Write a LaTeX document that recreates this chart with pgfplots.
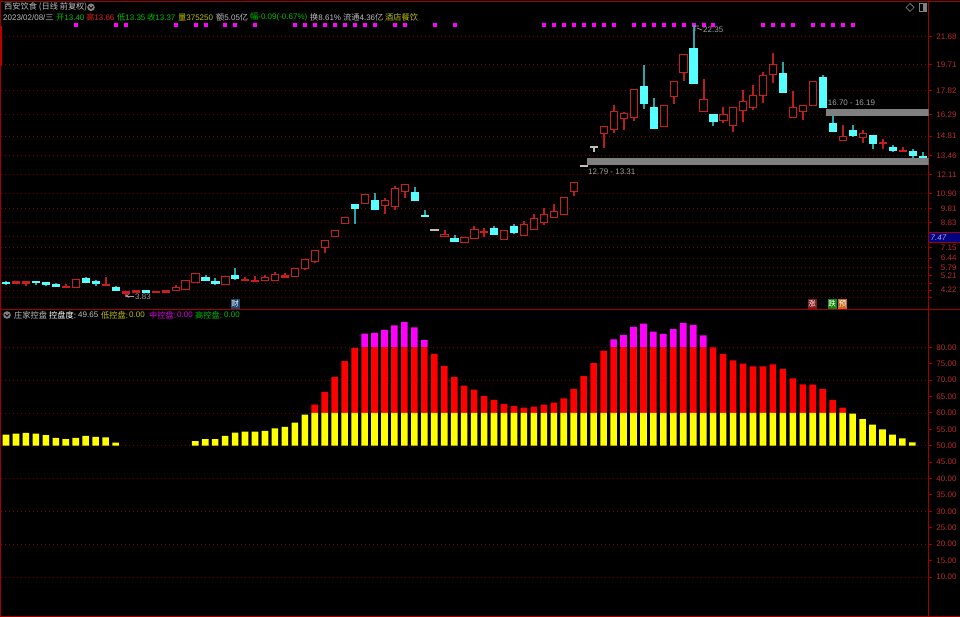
\documentclass[border=0pt]{standalone}
\usepackage{pgfplots}
\pgfplotsset{compat=1.18}
\usepackage{pgfplotstable}
\usepackage{fontspec}
\setmainfont{Liberation Sans}
\newfontfamily\cjk{Noto Sans CJK SC}
\definecolor{frame}{HTML}{A00000}
\definecolor{griddot}{HTML}{7A0000}
\definecolor{ticktxt}{HTML}{B82C2C}
\definecolor{candred}{HTML}{C81E1E}
\definecolor{wickred}{HTML}{B81C1C}
\definecolor{candcy}{HTML}{55FFFF}
\definecolor{wickcy}{HTML}{2AA5A5}
\definecolor{txtgray}{HTML}{BEBEBE}
\definecolor{txtgreen}{HTML}{00C000}
\definecolor{txtred}{HTML}{E02020}
\definecolor{txtolive}{HTML}{C0C000}
\definecolor{txtmag}{HTML}{E000E0}
\definecolor{band}{HTML}{808080}
\definecolor{pureyellow}{HTML}{FFFF00}
\definecolor{purered}{HTML}{FF0000}
\definecolor{puremag}{HTML}{FF00FF}
\definecolor{navybox}{HTML}{000080}
\definecolor{boxtxt}{HTML}{A8A8F0}
\definecolor{iconcol}{HTML}{808080}
\definecolor{annot}{HTML}{A0A0A0}
\definecolor{bcai}{HTML}{1C4670}
\definecolor{bzhang}{HTML}{801818}
\definecolor{bdie}{HTML}{108810}
\definecolor{byu}{HTML}{C86820}
\newcommand\C[1]{{\cjk\fontsize{8.2}{9}\selectfont #1}}
\newcommand\T[4]{\node[anchor=west,inner sep=0pt,text=#3,font=\fontsize{8}{9}\selectfont] at ({#1*1pt},{(617-#2)*1pt}) {#4};}
\newcommand\badge[4]{\node[inner sep=0pt,minimum width=9pt,minimum height=10pt,fill=#3,text=white,font=\cjk\fontsize{7.5}{8}\selectfont] at ({#1*1pt},{(617-#2)*1pt}) {#4};}

% candles: i = bar number, all rows in chart rows (h wick top, l wick bottom, t body top, b body bottom)
\pgfplotstableread{
i h l t b
1 281.3 283.3 281.3 283.3
2 281.3 285.3 281.3 283
6 284 287.3 286 287.3
7 279.7 287.3 279.7 287.3
10 277.7 285.3 284 285.3
12 291.7 296 291.7 293.7
13 290.3 292 290.3 292
15 291 292 291 292
16 290.3 292 290.3 292
17 285.3 290.3 287 290.3
18 280.3 289.3 280.3 289.3
19 273.3 282.7 273.3 282.7
22 276.3 284 276.3 284
24 277.3 280.7 279 280.7
25 276 281.7 280.3 281.7
26 275.7 280.3 277.7 280.3
27 272.3 280.7 274.3 280.7
28 273.3 277.7 275.7 277.7
29 268.3 276.7 268.3 276.7
30 259.7 269.3 259.7 268
31 250.3 262.3 250.3 261.3
32 240.3 252 240.3 247
33 230.3 236.7 230.3 236.7
34 217.3 223.7 217.3 223.7
36 194.7 203.7 194.7 203.7
38 198.3 213.7 200.3 205.7
39 186 209.7 188.3 206.7
40 184.3 197.7 184.3 191.7
44 230 236.7 234.3 236.7
46 237.3 242.3 237.3 242.3
47 226 238.7 229.3 238.7
48 228.3 236.7 231.3 232.3
50 230 239.3 230 239.3
52 221 235.7 224.3 235.7
53 214.3 229.7 218.3 229.7
54 208 224 214 222.7
55 204 217.7 211.3 217.7
56 197.3 214.7 197.3 214.7
57 182.3 195.7 182.3 191.7
60 126.7 147.3 126.7 133.3
61 105 132 111.7 129.3
62 112.7 129 113.7 118.3
63 89.7 120 89.7 117.3
66 105.7 126 105.7 126
67 81.3 103 81.3 96.3
68 54.3 80 54.3 72.3
70 79 111.3 99.7 111.3
72 107.7 122.7 114.3 120
73 107.7 131.7 107.7 125.7
74 90 121 101.7 110.7
75 85.7 109.7 95.7 107.3
76 72.3 102 75.3 95.3
77 53.7 82.7 64 74.3
79 91 117.3 107.7 117.3
80 105.7 119.7 105.7 111.7
81 81.3 105.7 81.3 105.7
84 125.3 140.3 136.3 140.3
86 130.3 142 133.3 137.7
88 139 148.7 142.3 143.7
90 147.3 151.5 150.3 151.5
}\redcandles
\pgfplotstableread{
i h l t b
0 281 284 282 283.3
3 281.3 284.7 281.3 282.3
4 282.3 285 282.3 284
5 283.3 286.7 284.7 286.7
8 277.7 282.3 278.3 282
9 280.3 285 281 283.3
11 286.7 290.7 287.3 290.7
14 290.3 292 290.3 292
20 275.7 280.7 277 280.7
21 278.3 284.3 281 283
23 268.3 279.7 275.7 278.3
35 204 223.3 204 208.3
37 193.3 209.7 200.7 209.7
41 187.3 200.3 192.3 200.3
42 210 216 215 216
45 235.7 241 238.3 241
49 226 234.7 228.7 234.7
51 224 233 226 232.3
64 65.7 108.3 86.3 103.3
65 98.3 128 107 128
69 25 83.3 48.3 83.3
71 114.3 125 114.3 121
78 62.3 92 73 92
82 75.7 107.3 77.7 107.3
83 115 131.3 123.7 131.3
85 125.7 136.7 130.3 135.3
87 135.7 148.7 135.7 143.3
89 145.3 151.7 147 150.3
91 149 157.7 151 155
92 152 157.2 156.2 157.2
}\cyancandles
\pgfplotstableread{
i h l t b
43 229.3 230.3 229.3 230.3
58 165 166 165 166
59 146.7 151.7 146.7 147.7
}\whitecandles
\pgfplotstableread{
i r
7 24.7
11 24.7
12 24.7
17 24.7
19 24.7
20 24.7
22 24.7
23 24.7
25 24.7
29 24.7
30 24.7
31 24.7
32 24.7
33 24.7
34 24.7
35 24.7
36 24.7
37 24.7
39 24.7
40 24.7
43 24.7
45 24.7
54 24.7
55 24.7
56 24.7
57 24.7
58 24.7
59 24.7
60 24.7
61 24.7
63 24.7
64 24.7
65 24.7
66 24.7
67 24.7
68 24.7
69 24.7
70 24.7
71 24.7
76 24.7
77 24.7
78 24.7
79 24.7
81 24.7
82 24.7
83 24.7
84 24.7
85 24.7
}\dotrows
% control bars: base 50, then yellow to 60, red to 80, magenta above
\pgfplotstableread{
i base yel red mag
0 50 3.4 0 0
1 50 3.7 0 0
2 50 3.9 0 0
3 50 3.7 0 0
4 50 3.2 0 0
5 50 2.4 0 0
6 50 2.0 0 0
7 50 2.4 0 0
8 50 3.0 0 0
9 50 2.7 0 0
10 50 2.5 0 0
11 50 0.9 0 0
19 50 1.4 0 0
20 50 2.0 0 0
21 50 2.0 0 0
22 50 3.0 0 0
23 50 4.0 0 0
24 50 4.3 0 0
25 50 4.3 0 0
26 50 4.5 0 0
27 50 5.3 0 0
28 50 5.7 0 0
29 50 7.0 0 0
30 50 9.5 0 0
31 50 10 2.5 0
32 50 10 6.4 0
33 50 10 11.0 0
34 50 10 15.8 0
35 50 10 19.8 0
36 50 10 20 4.2
37 50 10 20 4.4
38 50 10 20 5.2
39 50 10 20 6.7
40 50 10 20 7.7
41 50 10 20 6.1
42 50 10 20 2.2
43 50 10 18.0 0
44 50 10 14.3 0
45 50 10 11.0 0
46 50 10 8.3 0
47 50 10 7.1 0
48 50 10 5.2 0
49 50 10 4.0 0
50 50 10 2.7 0
51 50 10 2.1 0
52 50 10 1.6 0
53 50 10 1.9 0
54 50 10 2.5 0
55 50 10 3.1 0
56 50 10 4.4 0
57 50 10 7.3 0
58 50 10 11.2 0
59 50 10 15.2 0
60 50 10 19.0 0
61 50 10 20 2.4
62 50 10 20 3.7
63 50 10 20 6.2
64 50 10 20 7.2
65 50 10 20 4.8
66 50 10 20 4.1
67 50 10 20 5.5
68 50 10 20 7.4
69 50 10 20 6.8
70 50 10 20 3.6
71 50 10 20 0
72 50 10 17.9 0
73 50 10 16.0 0
74 50 10 15.0 0
75 50 10 14.2 0
76 50 10 14.2 0
77 50 10 14.8 0
78 50 10 13.4 0
79 50 10 10.5 0
80 50 10 8.7 0
81 50 10 8.6 0
82 50 10 7.3 0
83 50 10 4.0 0
84 50 10 1.6 0
85 50 9.8 0 0
86 50 8.1 0 0
87 50 6.4 0 0
88 50 5.0 0 0
89 50 3.4 0 0
90 50 2.2 0 0
91 50 1.0 0 0
}\control

\pgfplotsset{
  wickplot/.style={scatter,only marks,mark=none,forget plot,
    visualization depends on={\thisrow{l}-\thisrow{h} \as \wh},
    scatter/@pre marker code/.code={\fill[#1] (-0.5pt,0pt) rectangle (0.5pt,{-\wh pt});},
    scatter/@post marker code/.code={}},
  bodyplot/.style={scatter,only marks,mark=none,forget plot,
    visualization depends on={\thisrow{b}-\thisrow{t} \as \bh},
    scatter/@pre marker code/.code={\fill[#1] (-3.6pt,0pt) rectangle (3.6pt,{-\bh pt});},
    scatter/@post marker code/.code={}},
  hollowplot/.style={scatter,only marks,mark=none,forget plot,
    visualization depends on={\thisrow{b}-\thisrow{t} \as \bh},
    scatter/@pre marker code/.code={\fill[#1] (-3.6pt,0pt) rectangle (3.6pt,{-\bh pt});
      \pgfmathparse{\bh>2.2?1:0}\ifnum\pgfmathresult=1
        \fill[black] (-2.6pt,-1pt) rectangle (2.6pt,{(1-\bh)*1pt});\fi},
    scatter/@post marker code/.code={}},
  dotplot/.style={scatter,only marks,mark=none,forget plot,
    scatter/@pre marker code/.code={\fill[puremag] (-1.5pt,-1.5pt) rectangle (1.5pt,1.5pt);},
    scatter/@post marker code/.code={}},
}

\begin{document}
\begin{tikzpicture}[x=1pt,y=1pt]
\useasboundingbox (0,0) rectangle (960pt,617pt);
\fill[black] (0,0) rectangle (960pt,617pt);
\begin{axis}[
  name=upper, at={(1pt,307.5pt)}, anchor=south west, scale only axis,
  width=927.7pt, height=308pt,
  xmin=-0.502, xmax=92.64, ymin=1.5, ymax=309.5, y dir=reverse,
  xtick=\empty, ytick pos=right, yticklabel pos=right,
  ytick={36.3,64.3,90.3,114.3,136,155.3,174.7,193.3,208.7,222.7,236.5,247.3,258,267.5,275.7,283.7,290,297},
  yticklabels={21.68,19.71,17.82,16.29,14.81,13.46,12.11,10.90,9.81,8.83,{},7.15,6.44,5.79,5.21,{},4.22,{}},
  yticklabel style={text=ticktxt,font=\fontsize{8}{9}\selectfont,anchor=east,inner sep=0pt,xshift=25pt},
  ymajorgrids, major grid style={griddot,dash pattern=on 0.8pt off 3.2pt,line width=0.7pt},
  tick align=outside, major tick length=3pt, tick style={frame,line width=0.8pt},
  axis line style={frame,line width=1pt},
]
\addplot[fill=band,draw=none,forget plot] coordinates {(58.33,158) (92.64,158) (92.64,165.3) (58.33,165.3)} -- cycle;
\addplot[fill=band,draw=none,forget plot] coordinates {(82.3,109) (92.64,109) (92.64,115.7) (82.3,115.7)} -- cycle;
\addplot[dotplot] table[x=i,y=r] {\dotrows};
\addplot[wickplot=wickred] table[x=i,y=h] {\redcandles};
\addplot[wickplot=wickcy] table[x=i,y=h] {\cyancandles};
\addplot[wickplot=txtgray] table[x=i,y=h] {\whitecandles};
\addplot[hollowplot=candred] table[x=i,y=t] {\redcandles};
\addplot[bodyplot=candcy] table[x=i,y=t] {\cyancandles};
\addplot[bodyplot=txtgray] table[x=i,y=t] {\whitecandles};
\end{axis}
\begin{axis}[
  name=lower, at={(1pt,0.7pt)}, anchor=south west, scale only axis,
  width=927.7pt, height=306.8pt,
  xmin=-0.502, xmax=92.64, ymin=-2.01, ymax=91.52,
  xtick=\empty, ytick pos=right, yticklabel pos=right,
  ytick={10,20,...,80},
  extra y ticks={15,25,35,45,55,65,75},
  extra y tick style={grid=none},
  yticklabel style={text=ticktxt,font=\fontsize{8}{9}\selectfont,anchor=east,inner sep=0pt,xshift=25pt,/pgf/number format/.cd,fixed,fixed zerofill,precision=2,assume math mode=true},
  ymajorgrids, major grid style={griddot,dash pattern=on 0.8pt off 3.2pt,line width=0.7pt},
  tick align=outside, major tick length=3pt, tick style={frame,line width=0.8pt},
  axis line style={frame,line width=1pt},
  ybar stacked, bar width=6.6pt,
]
\addplot[draw=none,fill=none,forget plot] table[x=i,y=base] {\control};
\addplot[draw=none,fill=pureyellow,forget plot] table[x=i,y=yel] {\control};
\addplot[draw=none,fill=purered,forget plot] table[x=i,y=red] {\control};
\addplot[draw=none,fill=puremag,forget plot] table[x=i,y=mag] {\control};
\end{axis}
% frame extensions
\draw[frame,line width=1pt] (928.7pt,615.5pt) -- (960pt,615.5pt);
\draw[frame,line width=1pt] (928.7pt,307.5pt) -- (960pt,307.5pt);
\draw[frame,line width=1pt] (928.7pt,0.7pt) -- (960pt,0.7pt);
\fill[frame!70!purered] (0,{617-66}) rectangle (2pt,{617-26});
% price box
\fill[navybox] (929.3pt,{617-242.3}) rectangle (960pt,{617-232.7});
\draw[frame,line width=0.6pt] (929.3pt,{617-242.3}) -- (960pt,{617-242.3}) (929.3pt,{617-232.7}) -- (960pt,{617-232.7});
\node[anchor=west,inner sep=0pt,text=boxtxt,font=\fontsize{8}{9}\selectfont\itshape] at (930.5pt,{617-237.5}) {7.47};
% header
\T{4}{7.3}{txtgray}{\C{西安饮食 (日线 前复权)}}
\fill[iconcol] (91pt,{617-7.3}) circle (3.8pt);
\draw[black,line width=0.8pt] (89pt,{617-6.5}) -- (91pt,{617-8.5}) -- (93pt,{617-6.5});
\T{3}{17.3}{txtgray}{2023/02/08/\C{三}}
\T{56}{17.3}{txtgreen}{\C{开}13.40}
\T{86}{17.3}{txtred}{\C{高}13.66}
\T{117}{17.3}{txtgreen}{\C{低}13.35}
\T{147}{17.3}{txtgreen}{\C{收}13.37}
\T{178}{17.3}{txtolive}{\C{量}375250}
\T{216}{17.3}{txtgray}{\C{额}5.05\C{亿}}
\T{250}{17.3}{txtgreen}{\C{幅}-0.09(-0.67\%)}
\T{310}{17.3}{txtgray}{\C{换}8.61\%}
\T{343}{17.3}{txtgray}{\C{流通}4.36\C{亿}}
\T{385}{17.3}{txtolive}{\C{酒店餐饮}}
\draw[iconcol,line width=0.7pt] (906pt,{617-7.5}) -- (910pt,{617-3.5}) -- (914pt,{617-7.5}) -- (910pt,{617-11.5}) -- cycle;
\draw[iconcol,line width=0.8pt] (919pt,{617-3}) rectangle (926pt,{617-11});
\fill[iconcol] (923pt,{617-3}) rectangle (926pt,{617-11});
% lower header
\fill[iconcol] (7pt,{617-315}) circle (3.8pt);
\draw[black,line width=0.8pt] (5pt,{617-314.2}) -- (7pt,{617-316.2}) -- (9pt,{617-314.2});
\T{14}{315}{txtgray}{\C{庄家控盘}}
\T{49}{315}{white}{\C{控盘度}:}
\T{78}{315}{txtgray}{49.65}
\T{101}{315}{txtolive}{\C{低控盘}:}
\T{129}{315}{txtolive}{0.00}
\T{149}{315}{txtmag}{\C{中控盘}:}
\T{177}{315}{txtmag}{0.00}
\T{195}{315}{txtgreen}{\C{高控盘}:}
\T{224}{315}{txtgreen}{0.00}
% annotations
\T{135}{296.7}{annot}{3.83}
\draw[annot,line width=0.7pt,->,>=stealth] (134pt,{617-296}) -- (125pt,{617-296});
\T{703}{30}{annot}{22.35}
\draw[annot,line width=0.7pt] (695pt,{617-26}) -- (695pt,{617-31}) (695pt,{617-26}) -- (699pt,{617-26}) (697pt,{617-28}) -- (702pt,{617-30});
\T{588}{171.7}{annot}{12.79 - 13.31}
\T{827.7}{103}{annot}{16.70 - 16.19}
\badge{235}{304}{bcai}{财}
\badge{812}{304}{bzhang}{涨}
\badge{832}{304}{bdie}{跌}
\badge{842.5}{304}{byu}{预}
\end{tikzpicture}
\end{document}
